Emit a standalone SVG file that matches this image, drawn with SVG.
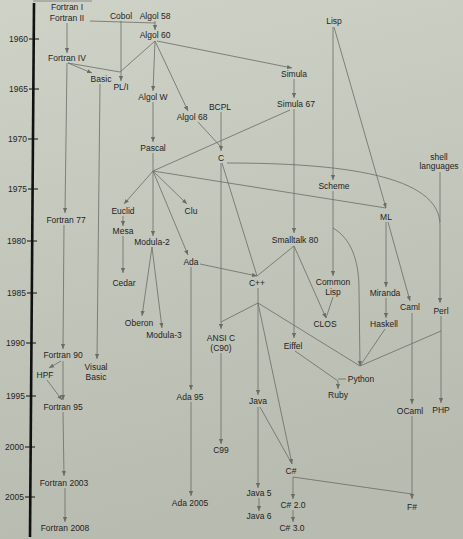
<svg xmlns="http://www.w3.org/2000/svg" width="463" height="539" viewBox="0 0 463 539">
<defs>
<linearGradient id="bg" x1="0" y1="0" x2="0.2" y2="1">
<stop offset="0" stop-color="#ced2c7"/>
<stop offset="1" stop-color="#b8bbaf"/>
</linearGradient>
<marker id="ar" viewBox="0 0 6 6" refX="6" refY="3" markerWidth="5" markerHeight="5" markerUnits="userSpaceOnUse" orient="auto">
<path d="M0,0.5 L6,3 L0,5.5 z" fill="#6b6c66"/>
</marker>
<style>
text{font-family:"Liberation Sans",Arial,sans-serif;font-size:8.5px;fill:#1f1f1f;text-anchor:middle}
.yr{text-anchor:end}
.c path{fill:none;stroke:#6b6c66;stroke-width:0.8}
.a{marker-end:url(#ar)}
</style>
</defs>
<rect width="463" height="539" fill="url(#bg)"/>
<g id="timeline">
<line x1="33" y1="1" x2="92" y2="1" stroke="#777" stroke-width="0.8"/>
<line x1="34" y1="3" x2="30" y2="537" stroke="#111" stroke-width="2.6"/>
<g stroke="#111" stroke-width="1">
<line x1="29" y1="39" x2="39" y2="39"/><line x1="29" y1="89" x2="39" y2="89"/>
<line x1="28" y1="139" x2="38" y2="139"/><line x1="28" y1="189" x2="38" y2="189"/>
<line x1="27" y1="241" x2="37" y2="241"/><line x1="27" y1="293" x2="37" y2="293"/>
<line x1="26" y1="343" x2="36" y2="343"/><line x1="26" y1="396" x2="36" y2="396"/>
<line x1="25" y1="447" x2="35" y2="447"/><line x1="25" y1="497" x2="35" y2="497"/>
</g>
<text class="yr" x="28" y="42">1960</text><text class="yr" x="28" y="92">1965</text>
<text class="yr" x="27" y="142">1970</text><text class="yr" x="27" y="192">1975</text>
<text class="yr" x="26" y="244">1980</text><text class="yr" x="26" y="296">1985</text>
<text class="yr" x="25" y="346">1990</text><text class="yr" x="25" y="399">1995</text>
<text class="yr" x="24" y="450">2000</text><text class="yr" x="24" y="500">2005</text>
</g>
<g id="connectors" class="c">
<path class="a" d="M67,23 L67,53"/>
<path d="M90,21 L155,23"/>
<path class="a" d="M155,21 L155,30"/>
<path class="a" d="M121,21 L121,81"/>
<path d="M68,63 L120,72"/>
<path d="M155,41 L120,72"/>
<path class="a" d="M68,63 L92,73"/>
<path class="a" d="M155,41 L153,91"/>
<path class="a" d="M155,41 L188,111"/>
<path class="a" d="M157,41 L292,68"/>
<path class="a" d="M294,79 L294,98"/>
<path class="a" d="M333,27 L333,180"/>
<path class="a" d="M334,27 L386,208"/>
<path class="a" d="M67,63 L65,213"/>
<path class="a" d="M100,84 L97,359"/>
<path class="a" d="M153,102 L153,142"/>
<path class="a" d="M221,112 L221,151"/>
<path d="M198,122 L221,147"/>
<path d="M290,110 L153,171"/>
<path class="a" d="M227,163 C340,163 440,175 440,225 L440,303"/>
<path d="M440,172 L440,222"/>
<path class="a" d="M153,153 L153,236"/>
<path class="a" d="M153,171 L124,204"/>
<path class="a" d="M153,171 L187,204"/>
<path class="a" d="M153,171 L188,255"/>
<path d="M153,171 L386,208"/>
<path class="a" d="M123,216 L123,226"/>
<path class="a" d="M123,236 L123,273"/>
<path class="a" d="M333,191 L333,276"/>
<path class="a" d="M333,228 C350,238 359,258 359,290 L360,366"/>
<path class="a" d="M294,109 L294,233"/>
<path class="a" d="M386,222 L386,287"/>
<path class="a" d="M388,222 L410,301"/>
<path class="a" d="M152,247 L142,316"/>
<path class="a" d="M152,247 L162,328"/>
<path class="a" d="M191,267 L191,390"/>
<path class="a" d="M200,264 L257,276"/>
<path d="M222,163 L257,276"/>
<path d="M294,246 L257,276"/>
<path class="a" d="M294,246 L294,338"/>
<path class="a" d="M294,246 L326,318"/>
<path d="M333,297 L326,318"/>
<path class="a" d="M386,298 L386,318"/>
<path class="a" d="M412,313 L412,404"/>
<path class="a" d="M441,316 L441,403"/>
<path d="M441,331 L360,366"/>
<path d="M385,329 L360,366"/>
<path d="M258,303 L360,366"/>
<path d="M258,303 L221,322"/>
<path class="a" d="M221,163 L221,329"/>
<path class="a" d="M258,288 L258,395"/>
<path class="a" d="M258,303 L292,464"/>
<path d="M260,407 L292,464"/>
<path class="a" d="M258,407 L258,488"/>
<path class="a" d="M259,498 L259,511"/>
<path class="a" d="M295,351 L338,381 L338,389"/>
<path d="M346,379 L338,379"/>
<path class="a" d="M221,353 L221,444"/>
<path class="a" d="M191,402 L191,496"/>
<path class="a" d="M293,477 L293,499"/>
<path class="a" d="M293,510 L293,522"/>
<path d="M293,477 L412,494"/>
<path class="a" d="M412,416 L412,499"/>
<path class="a" d="M64,225 L63,349"/>
<path class="a" d="M61,361 L49,368"/>
<path class="a" d="M47,380 L62,400"/>
<path class="a" d="M63,361 L63,400"/>
<path class="a" d="M63,412 L64,476"/>
<path class="a" d="M65,488 L65,522"/>
</g>
<g id="fortran1"><text x="67" y="10">Fortran I</text></g>
<g id="fortran2"><text x="67" y="21">Fortran II</text></g>
<g id="cobol"><text x="121" y="19">Cobol</text></g>
<g id="algol58"><text x="155" y="19">Algol 58</text></g>
<g id="algol60"><text x="155" y="38">Algol 60</text></g>
<g id="lisp"><text x="334" y="24">Lisp</text></g>
<g id="fortran4"><text x="67" y="61">Fortran IV</text></g>
<g id="basic"><text x="101" y="82">Basic</text></g>
<g id="pl1"><text x="121" y="90">PL/I</text></g>
<g id="algolw"><text x="153" y="100">Algol W</text></g>
<g id="simula"><text x="294" y="77">Simula</text></g>
<g id="simula67"><text x="296" y="107">Simula 67</text></g>
<g id="bcpl"><text x="220" y="110">BCPL</text></g>
<g id="algol68"><text x="192" y="120">Algol 68</text></g>
<g id="pascal"><text x="153" y="151">Pascal</text></g>
<g id="c"><text x="221" y="161">C</text></g>
<g id="shell"><text x="439" y="160">shell</text><text x="439" y="169">languages</text></g>
<g id="scheme"><text x="334" y="189">Scheme</text></g>
<g id="euclid"><text x="123" y="214">Euclid</text></g>
<g id="clu"><text x="191" y="214">Clu</text></g>
<g id="ml"><text x="386" y="220">ML</text></g>
<g id="fortran77"><text x="66" y="223">Fortran 77</text></g>
<g id="mesa"><text x="123" y="234">Mesa</text></g>
<g id="smalltalk"><text x="295" y="243">Smalltalk 80</text></g>
<g id="modula2"><text x="152" y="245">Modula-2</text></g>
<g id="ada"><text x="191" y="265">Ada</text></g>
<g id="cedar"><text x="124" y="286">Cedar</text></g>
<g id="cpp"><text x="257" y="286">C++</text></g>
<g id="commonlisp"><text x="333" y="285">Common</text><text x="333" y="295">Lisp</text></g>
<g id="miranda"><text x="385" y="296">Miranda</text></g>
<g id="caml"><text x="410" y="310">Caml</text></g>
<g id="perl"><text x="441" y="314">Perl</text></g>
<g id="oberon"><text x="139" y="326">Oberon</text></g>
<g id="clos"><text x="325" y="327">CLOS</text></g>
<g id="haskell"><text x="384" y="327">Haskell</text></g>
<g id="modula3"><text x="164" y="338">Modula-3</text></g>
<g id="ansic"><text x="221" y="341">ANSI C</text><text x="221" y="351">(C90)</text></g>
<g id="eiffel"><text x="293" y="349">Eiffel</text></g>
<g id="fortran90"><text x="63" y="358">Fortran 90</text></g>
<g id="visualbasic"><text x="96" y="370">Visual</text><text x="96" y="380">Basic</text></g>
<g id="hpf"><text x="45" y="378">HPF</text></g>
<g id="python"><text x="361" y="382">Python</text></g>
<g id="ruby"><text x="338" y="398">Ruby</text></g>
<g id="ada95"><text x="190" y="400">Ada 95</text></g>
<g id="java"><text x="258" y="404">Java</text></g>
<g id="fortran95"><text x="63" y="410">Fortran 95</text></g>
<g id="php"><text x="441" y="413">PHP</text></g>
<g id="ocaml"><text x="410" y="414">OCaml</text></g>
<g id="c99"><text x="221" y="453">C99</text></g>
<g id="csharp"><text x="291" y="474">C#</text></g>
<g id="fortran2003"><text x="64" y="486">Fortran 2003</text></g>
<g id="java5"><text x="259" y="496">Java 5</text></g>
<g id="ada2005"><text x="190" y="506">Ada 2005</text></g>
<g id="csharp2"><text x="293" y="508">C# 2.0</text></g>
<g id="fsharp"><text x="412" y="510">F#</text></g>
<g id="java6"><text x="259" y="519">Java 6</text></g>
<g id="fortran2008"><text x="65" y="531">Fortran 2008</text></g>
<g id="csharp3"><text x="292" y="531">C# 3.0</text></g>
</svg>
